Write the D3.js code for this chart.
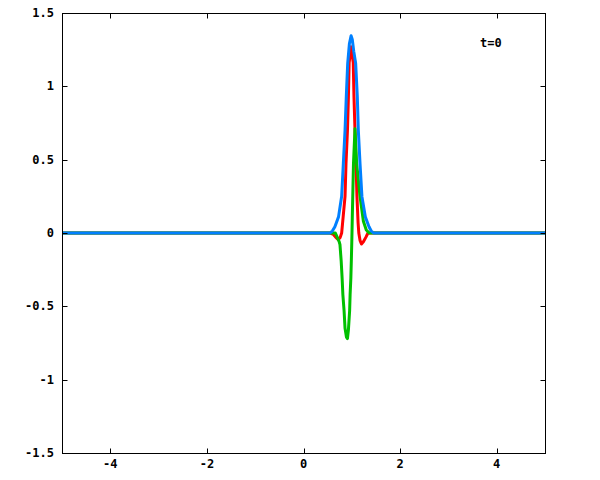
<!DOCTYPE html>
<html>
<head>
<meta charset="utf-8">
<script src="https://cdn.jsdelivr.net/npm/d3@7"></script>
<style>
  html, body { margin: 0; padding: 0; background: #fff; }
  svg { display: block; }
  text { font-family: "DejaVu Sans Mono", "Liberation Mono", monospace; font-weight: bold; font-size: 12px; fill: #000; }
</style>
</head>
<body>
<svg id="chart" width="600" height="480"></svg>
<script>
// ---- data ----
const xTicks = [-4, -2, 0, 2, 4];
const yTicks = [-1.5, -1, -0.5, 0, 0.5, 1, 1.5];
const yTickLabels = ["-1.5", "-1", "-0.5", "0", "0.5", "1", "1.5"];
const label = "t=0";

// real part (red)
const realX = [-5, 0.55, 0.62, 0.67, 0.72, 0.76, 0.79, 0.81, 0.86, 0.88, 0.91, 0.93, 0.945, 0.985, 1.03, 1.045, 1.066, 1.087, 1.107, 1.13, 1.145, 1.17, 1.20, 1.24, 1.29, 1.335, 5];
const realY = [0, 0, -0.01, -0.03, -0.045, -0.03, 0, 0.07, 0.25, 0.475, 0.70, 0.93, 1.16, 1.27, 1.16, 0.93, 0.70, 0.475, 0.248, 0.07, 0, -0.05, -0.075, -0.06, -0.03, 0, 0];

// imaginary part (green)
const imagX = [-5, 0.55, 0.66, 0.70, 0.74, 0.755, 0.78, 0.80, 0.815, 0.84, 0.86, 0.89, 0.91, 0.93, 0.955, 0.965, 0.98, 0.99, 1.00, 1.01, 1.035, 1.066, 1.10, 1.17, 1.24, 1.30, 1.36, 5];
const imagY = [0, 0, 0, -0.03, -0.06, -0.08, -0.19, -0.31, -0.42, -0.53, -0.65, -0.71, -0.72, -0.66, -0.53, -0.42, -0.31, -0.19, -0.06, 0.10, 0.475, 0.71, 0.475, 0.25, 0.08, 0.02, 0, 0];

// modulus (blue)
const absX = [-5, 0.55, 0.60, 0.65, 0.725, 0.79, 0.825, 0.86, 0.886, 0.915, 0.95, 0.985, 1.01, 1.04, 1.08, 1.114, 1.135, 1.17, 1.21, 1.28, 1.356, 1.40, 1.45, 5];
const absY = [0, 0, 0.015, 0.043, 0.11, 0.25, 0.475, 0.70, 0.93, 1.157, 1.29, 1.345, 1.32, 1.24, 1.157, 0.93, 0.70, 0.475, 0.248, 0.11, 0.043, 0.015, 0, 0];

// ---- layout ----
const svg = d3.select("#chart");
const L = 62, R = 545, T = 13, B = 453;
const x = d3.scaleLinear().domain([-5, 5]).range([L, R]);
const y = d3.scaleLinear().domain([-1.5, 1.5]).range([B, T]);
const tick = 5;

const g = svg.append("g");

// series
const line = d3.line().x(d => x(d[0])).y(d => y(d[1]));
const series = [
  { xs: realX, ys: realY, color: "#ff0000" },
  { xs: imagX, ys: imagY, color: "#00c000" },
  { xs: absX, ys: absY, color: "#0080ff" }
];
series.forEach(s => {
  g.append("path")
    .datum(s.xs.map((v, i) => [v, s.ys[i]]))
    .attr("fill", "none")
    .attr("stroke", s.color)
    .attr("stroke-width", 3)
    .attr("stroke-linejoin", "round")
    .attr("d", line);
});

// frame
g.append("rect")
  .attr("x", L + 0.5).attr("y", T + 0.5)
  .attr("width", R - L).attr("height", B - T)
  .attr("fill", "none").attr("stroke", "#000").attr("stroke-width", 1);

// x ticks (bottom and top, inward)
xTicks.forEach(v => {
  const px = Math.round(x(v)) + 0.5;
  g.append("line").attr("x1", px).attr("x2", px).attr("y1", B + 0.5).attr("y2", B + 0.5 - tick).attr("stroke", "#000");
  g.append("line").attr("x1", px).attr("x2", px).attr("y1", T + 0.5).attr("y2", T + 0.5 + tick).attr("stroke", "#000");
  g.append("text").attr("x", x(v)).attr("y", 468).attr("text-anchor", "middle").text(d3.format("d")(v).replace("−", "-"));
});

// y ticks (left and right, inward)
yTicks.forEach((v, i) => {
  const py = Math.round(y(v)) + 0.5;
  g.append("line").attr("x1", L + 0.5).attr("x2", L + 0.5 + tick).attr("y1", py).attr("y2", py).attr("stroke", "#000");
  g.append("line").attr("x1", R + 0.5).attr("x2", R + 0.5 - tick).attr("y1", py).attr("y2", py).attr("stroke", "#000");
  g.append("text").attr("x", 54).attr("y", y(v) + 4).attr("text-anchor", "end").text(yTickLabels[i]);
});

// annotation
g.append("text").attr("x", 480).attr("y", 47).text(label);
</script>
</body>
</html>
